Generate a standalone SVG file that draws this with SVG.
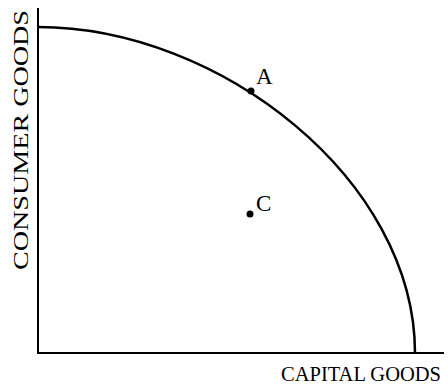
<svg xmlns="http://www.w3.org/2000/svg" width="448" height="388" viewBox="0 0 448 388">
<style>
.ax{stroke:#000;stroke-width:2;fill:none}
.crv{stroke:#000;stroke-width:2.5;fill:none}
.lbl{font-family:"Liberation Serif","Times New Roman",serif;fill:#000}
</style>
<rect width="448" height="388" fill="#fff"/>
<g id="connectors">
<path id="axes" class="ax" d="M38,8 V353 H444"/>
<path id="ppf" class="crv" d="M38,27 C220,27 415,180 415,353"/>
</g>
<g id="pointA">
<circle cx="251" cy="91" r="3.5" fill="#000"/>
<text class="lbl" x="256" y="84" font-size="23">A</text>
</g>
<g id="pointC">
<circle cx="250" cy="214" r="3.5" fill="#000"/>
<text class="lbl" x="256" y="211" font-size="23">C</text>
</g>
<g id="xlabel">
<text class="lbl" x="281" y="381" font-size="21" textLength="160" lengthAdjust="spacingAndGlyphs">CAPITAL GOODS</text>
</g>
<g id="ylabel">
<text class="lbl" transform="translate(28,270) rotate(-90)" font-size="22" textLength="260" lengthAdjust="spacingAndGlyphs">CONSUMER GOODS</text>
</g>
</svg>
